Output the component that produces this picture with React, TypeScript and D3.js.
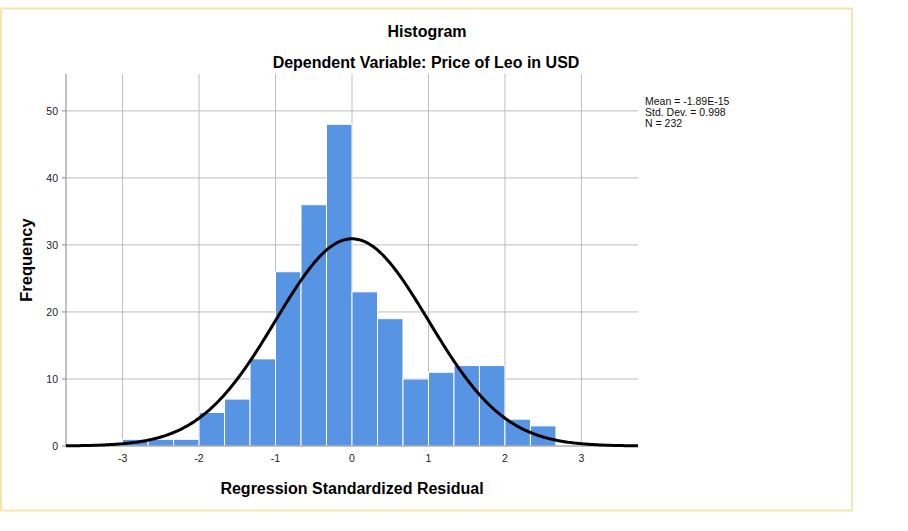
import React from "react";
import * as d3 from "d3";

const binStarts = [-3, -8 / 3, -7 / 3, -2, -5 / 3, -4 / 3, -1, -2 / 3, -1 / 3, 0, 1 / 3, 2 / 3, 1, 4 / 3, 5 / 3, 2, 7 / 3];
const binCounts = [1, 1, 1, 5, 7, 13, 26, 36, 48, 23, 19, 10, 11, 12, 12, 4, 3];
const binWidth = 1 / 3;
const xTicks = [-3, -2, -1, 0, 1, 2, 3];
const yTicks = [0, 10, 20, 30, 40, 50];
const statMean = -1.89e-15;
const statSd = 0.998;
const statN = 232;
const legendLines = ["Mean = -1.89E-15", "Std. Dev. = 0.998", "N = 232"];

const W = 908;
const H = 531;
const left = 66;
const right = 638;
const top = 74;
const bottom = 446;
const font = "'Liberation Sans', Arial, sans-serif";

export default function App() {
  const x = d3.scaleLinear().domain([-3.74, 3.74]).range([left, right]);
  const y = d3.scaleLinear().domain([0, 55.5]).range([bottom, top]);

  const curveXs = d3.range(-3.74, 3.7401, 0.02);
  const pdf = (v: number) =>
    (statN * binWidth) / (statSd * Math.sqrt(2 * Math.PI)) *
    Math.exp(-0.5 * ((v - statMean) / statSd) ** 2);
  const line = d3
    .line<number>()
    .x((d) => x(d))
    .y((d) => y(pdf(d)))
    .curve(d3.curveLinear);

  return (
    <svg width={W} height={H} style={{ position: "absolute", left: 0, top: 0, background: "#fff" }}>
      <rect x={1} y={8.5} width={851} height={502} fill="#fff" stroke="#f4e7ad" strokeWidth={2} />
      <text x={427} y={37} textAnchor="middle" fontFamily={font} fontWeight="bold" fontSize={16}>
        Histogram
      </text>
      <text x={426} y={67.5} textAnchor="middle" fontFamily={font} fontWeight="bold" fontSize={16}>
        Dependent Variable: Price of Leo in USD
      </text>

      {/* grid */}
      {yTicks.filter((t) => t > 0).map((t) => (
        <line key={"gy" + t} x1={left} x2={right} y1={y(t)} y2={y(t)} stroke="#bdbdbd" strokeWidth={1} />
      ))}
      {xTicks.map((t) => (
        <line key={"gx" + t} x1={x(t)} x2={x(t)} y1={top} y2={bottom} stroke="#bdbdbd" strokeWidth={1} />
      ))}

      {/* bars */}
      {binStarts.map((s, i) => (
        <rect
          key={"b" + i}
          x={x(s)}
          y={y(binCounts[i])}
          width={x(s + binWidth) - x(s)}
          height={y(0) - y(binCounts[i])}
          fill="#5794e3"
          stroke="#ffffff"
          strokeWidth={1}
        />
      ))}

      {/* axes */}
      <line x1={left} x2={left} y1={top} y2={bottom} stroke="#888" strokeWidth={1} />
      <line x1={left} x2={right} y1={bottom} y2={bottom} stroke="#888" strokeWidth={1} />
      {yTicks.map((t) => (
        <g key={"yt" + t}>
          <line x1={left - 4} x2={left} y1={y(t)} y2={y(t)} stroke="#888" />
          <text x={58} y={y(t) + 4} textAnchor="end" fontFamily={font} fontSize={10.5} fill="#222">
            {t}
          </text>
        </g>
      ))}
      {xTicks.map((t) => (
        <text key={"xt" + t} x={x(t)} y={462} textAnchor="middle" fontFamily={font} fontSize={10.5} fill="#222">
          {t}
        </text>
      ))}

      {/* normal curve */}
      <path d={line(curveXs) || ""} fill="none" stroke="#000" strokeWidth={3} />

      {/* axis titles */}
      <text
        transform={`translate(32, 260) rotate(-90)`}
        textAnchor="middle"
        fontFamily={font}
        fontWeight="bold"
        fontSize={16.5}
      >
        Frequency
      </text>
      <text x={352} y={494} textAnchor="middle" fontFamily={font} fontWeight="bold" fontSize={16}>
        Regression Standardized Residual
      </text>

      {/* legend */}
      {legendLines.map((l, i) => (
        <text key={"l" + i} x={645} y={105 + i * 11} fontFamily={font} fontSize={10.5} fill="#111">
          {l}
        </text>
      ))}
    </svg>
  );
}
